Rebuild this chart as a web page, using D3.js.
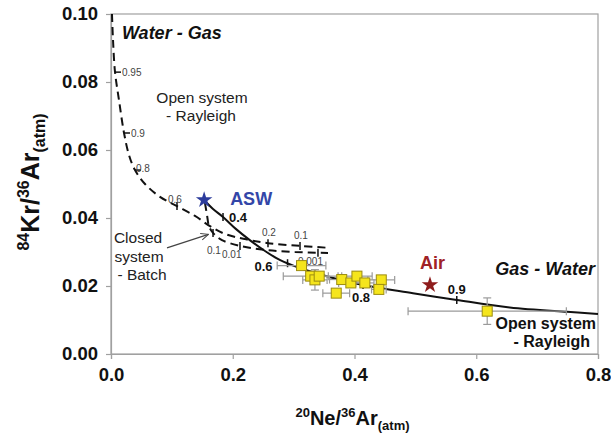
<!DOCTYPE html>
<html><head><meta charset="utf-8">
<script src="https://cdn.jsdelivr.net/npm/d3@7"></script>
<style>body{margin:0;background:#fff}text{font-family:Arial,"Liberation Sans",sans-serif}</style>
</head><body><svg id="c" width="611" height="437"></svg>
<script>
// ---------- data ----------
const xTickValues = [0, 0.2, 0.4, 0.6, 0.8];
const xTickLabels = ["0.0", "0.2", "0.4", "0.6", "0.8"];
const yTickValues = [0, 0.02, 0.04, 0.06, 0.08, 0.10];
const yTickLabels = ["0.00", "0.02", "0.04", "0.06", "0.08", "0.10"];

// samples (20Ne/36Ar, 84Kr/36Ar) with errors
const sampleNe = [0.313, 0.328, 0.335, 0.342, 0.379, 0.370, 0.394, 0.404, 0.417, 0.444, 0.440, 0.618];
const sampleKr = [0.0260, 0.0229, 0.0218, 0.0229, 0.0219, 0.0179, 0.0209, 0.0229, 0.0209, 0.0218, 0.0190, 0.0126];
const sampleNeErr = [0.040, 0.045, 0.020, 0.015, 0.020, 0.022, 0.020, 0.025, 0.015, 0.022, 0.012, 0.130];
const sampleKrErr = [0.0010, 0.0012, 0.0030, 0.0012, 0.0010, 0.0010, 0.0012, 0.0012, 0.0010, 0.0012, 0.0010, 0.0039];

// end members
const aswPoint = [0.153, 0.0453];
const airPoint = [0.524, 0.0203];

// Gas - Water, open system Rayleigh (solid)
const gasWaterNe = [0.153, 0.1676, 0.184, 0.205, 0.228, 0.253, 0.278, 0.310, 0.360, 0.414, 0.496, 0.568, 0.655, 0.749, 0.800];
const gasWaterKr = [0.0453, 0.04265, 0.0403, 0.0368, 0.0335, 0.0303, 0.0276, 0.0253, 0.0226, 0.0203, 0.0179, 0.0159, 0.0137, 0.0124, 0.0118];
const gasWaterMarks = [["0.4", 0.184, 0.0403], ["0.6", 0.290, 0.0267], ["0.8", 0.414, 0.0203], ["0.9", 0.568, 0.0159]];

// Water - Gas, open system Rayleigh (dashed)
const waterGasNe = [0.0016, 0.0033, 0.0066, 0.0131, 0.0214, 0.0296, 0.0394, 0.0559, 0.0805, 0.1084, 0.138, 0.1626, 0.1873, 0.2201, 0.2579, 0.3105, 0.3598];
const waterGasKr = [0.100, 0.0924, 0.0829, 0.0747, 0.0650, 0.0585, 0.0541, 0.0500, 0.0462, 0.0435, 0.0406, 0.0376, 0.0353, 0.0338, 0.0326, 0.0318, 0.0312];
const waterGasMarks = [["0.95", 0.0066, 0.0829], ["0.9", 0.0214, 0.0650], ["0.8", 0.0394, 0.0541], ["0.6", 0.1084, 0.0435], ["0.2", 0.2579, 0.0326], ["0.1", 0.3105, 0.0318]];

// Closed system batch (dashed)
const batchNe = [0.1544, 0.1577, 0.161, 0.1676, 0.1823, 0.2119, 0.253, 0.3023, 0.3565];
const batchKr = [0.0444, 0.0409, 0.0376, 0.0356, 0.0335, 0.0318, 0.0306, 0.0300, 0.0297];
const batchMarks = [["0.1", 0.1676, 0.0356], ["0.01", 0.2119, 0.0318], ["0.001", 0.3400, 0.0298]];

// ---------- drawing ----------
const svg = d3.select("#c");
const x = d3.scaleLinear().domain([0, 0.8]).range([111, 598]);
const y = d3.scaleLinear().domain([0, 0.1]).range([354, 14]);
const axisCol = "#a0a0a0";

// frame
svg.append("rect").attr("x", x(0)).attr("y", y(0.1)).attr("width", x(0.8) - x(0)).attr("height", y(0) - y(0.1))
  .attr("fill", "none").attr("stroke", axisCol).attr("stroke-width", 1.2);

const xAxis = d3.axisBottom(x).tickValues(xTickValues).tickSize(5).tickFormat((d, i) => xTickLabels[i]);
const gx = svg.append("g").attr("transform", `translate(0,${y(0)})`).call(xAxis);
const yAxis = d3.axisLeft(y).tickValues(yTickValues).tickSize(5).tickPadding(8).tickFormat((d, i) => yTickLabels[i]);
const gy = svg.append("g").attr("transform", `translate(${x(0)},0)`).call(yAxis);
[gx, gy].forEach(g => {
  g.select(".domain").attr("stroke", axisCol).attr("stroke-width", 1.2);
  g.selectAll(".tick line").attr("stroke", axisCol).attr("stroke-width", 1.2);
  g.selectAll(".tick text").attr("fill", "#111").attr("font-size", 18.5).attr("font-weight", "bold")
    .attr("font-family", "Arial, 'Liberation Sans', sans-serif");
});
gx.selectAll(".tick text").attr("dy", "1.05em");

// axis titles
const xt = svg.append("text").attr("x", x(0.4) - 2).attr("y", 425).attr("text-anchor", "middle")
  .attr("font-size", 20).attr("font-weight", "bold").attr("fill", "#111");
xt.append("tspan").text("20").attr("font-size", 13).attr("dy", -8);
xt.append("tspan").text("Ne/").attr("dy", 8);
xt.append("tspan").text("36").attr("font-size", 13).attr("dy", -8);
xt.append("tspan").text("Ar").attr("dy", 8);
xt.append("tspan").text("(atm)").attr("font-size", 13).attr("dy", 5);

const yt = svg.append("text").attr("transform", `translate(39,${(y(0) + y(0.1)) / 2 - 2}) rotate(-90)`)
  .attr("text-anchor", "middle").attr("font-size", 25).attr("font-weight", "bold").attr("fill", "#111");
yt.append("tspan").text("84").attr("font-size", 16).attr("dy", -10);
yt.append("tspan").text("Kr/").attr("dy", 10);
yt.append("tspan").text("36").attr("font-size", 16).attr("dy", -10);
yt.append("tspan").text("Ar").attr("dy", 10);
yt.append("tspan").text("(atm)").attr("font-size", 16).attr("dy", 6);

// curves
const line = d3.line().x(d => x(d[0])).y(d => y(d[1])).curve(d3.curveCatmullRom.alpha(0.5));
const zip = (a, b) => a.map((v, i) => [v, b[i]]);
svg.append("path").attr("d", line(zip(waterGasNe, waterGasKr))).attr("fill", "none")
  .attr("stroke", "#111").attr("stroke-width", 2).attr("stroke-dasharray", "8,5");
svg.append("path").attr("d", line(zip(batchNe, batchKr))).attr("fill", "none")
  .attr("stroke", "#111").attr("stroke-width", 2).attr("stroke-dasharray", "8,5");
svg.append("path").attr("d", line(zip(gasWaterNe, gasWaterKr))).attr("fill", "none")
  .attr("stroke", "#111").attr("stroke-width", 2);

// curve marks
function marks(arr, layout, style) {
  arr.forEach((m, i) => {
    const px = x(m[1]), py = y(m[2]), L = layout[i];
    if (L.tick === "h") svg.append("line").attr("x1", px).attr("x2", px + 6).attr("y1", py).attr("y2", py).attr("stroke", "#111").attr("stroke-width", 1.5);
    else svg.append("line").attr("x1", px).attr("x2", px).attr("y1", py - 4).attr("y2", py + 4).attr("stroke", "#111").attr("stroke-width", 1.5);
    svg.append("text").attr("x", px + L.dx).attr("y", py + L.dy).attr("text-anchor", L.anchor || "start")
      .attr("font-size", style.size).attr("font-weight", style.weight).attr("fill", style.fill).text(m[0]);
  });
}
marks(waterGasMarks, [
  {tick: "h", dx: 7, dy: 4}, {tick: "h", dx: 7, dy: 4}, {tick: "h", dx: 1, dy: 2},
  {tick: "v", dx: -9, dy: -3}, {tick: "v", dx: -6, dy: -7}, {tick: "v", dx: -6, dy: -7}
], {size: 10, weight: "normal", fill: "#444"});
marks(batchMarks, [
  {tick: "v", dx: -6, dy: 21}, {tick: "v", dx: -18, dy: 12}, {tick: "v", dx: -20, dy: 12}
], {size: 10, weight: "normal", fill: "#444"});
marks(gasWaterMarks, [
  {tick: "v", dx: 6, dy: 5}, {tick: "v", dx: -33, dy: 8}, {tick: "v", dx: -11, dy: 17}, {tick: "v", dx: -9, dy: -6}
], {size: 13, weight: "bold", fill: "#111"});

// error bars & samples
const g = svg.append("g");
sampleNe.forEach((v, i) => {
  const cx = x(v), cy = y(sampleKr[i]);
  const x0 = x(v - sampleNeErr[i]), x1 = x(v + sampleNeErr[i]);
  const y0 = y(sampleKr[i] - sampleKrErr[i]), y1 = y(sampleKr[i] + sampleKrErr[i]);
  const e = g.append("g").attr("stroke", "#9a9a9a").attr("stroke-width", 1.2);
  e.append("line").attr("x1", x0).attr("x2", x1).attr("y1", cy).attr("y2", cy);
  e.append("line").attr("x1", x0).attr("x2", x0).attr("y1", cy - 4).attr("y2", cy + 4);
  e.append("line").attr("x1", x1).attr("x2", x1).attr("y1", cy - 4).attr("y2", cy + 4);
  e.append("line").attr("x1", cx).attr("x2", cx).attr("y1", y0).attr("y2", y1);
  e.append("line").attr("x1", cx - 4).attr("x2", cx + 4).attr("y1", y0).attr("y2", y0);
  e.append("line").attr("x1", cx - 4).attr("x2", cx + 4).attr("y1", y1).attr("y2", y1);
});
sampleNe.forEach((v, i) => {
  g.append("rect").attr("x", x(v) - 5).attr("y", y(sampleKr[i]) - 5).attr("width", 10).attr("height", 10)
    .attr("fill", "#f5e51c").attr("stroke", "#9c8c10").attr("stroke-width", 1);
});

// stars
const star = d3.symbol().type(d3.symbolStar).size(85);
svg.append("path").attr("d", star()).attr("transform", `translate(${x(aswPoint[0])},${y(aswPoint[1])})`).attr("fill", "#2c3c9c");
svg.append("path").attr("d", star()).attr("transform", `translate(${x(airPoint[0])},${y(airPoint[1])})`).attr("fill", "#8e1c1c");
svg.append("text").attr("x", x(aswPoint[0]) + 26).attr("y", y(aswPoint[1]) + 5).attr("font-size", 18).attr("font-weight", "bold").attr("fill", "#3346a8").text("ASW");
svg.append("text").attr("x", x(airPoint[0]) - 10).attr("y", y(airPoint[1]) - 16).attr("font-size", 18).attr("font-weight", "bold").attr("fill", "#a02226").text("Air");

// annotations
svg.append("text").attr("x", x(0.018)).attr("y", 39).attr("font-size", 18).attr("font-weight", "bold").attr("font-style", "italic").attr("fill", "#111").text("Water - Gas");
svg.append("text").attr("x", 595).attr("y", 275).attr("text-anchor", "end").attr("font-size", 18).attr("font-weight", "bold").attr("font-style", "italic").attr("fill", "#111").text("Gas - Water");
const t1 = svg.append("text").attr("text-anchor", "middle").attr("font-size", 15.5).attr("fill", "#222");
t1.append("tspan").attr("x", 202).attr("y", 103).text("Open system");
t1.append("tspan").attr("x", 201).attr("y", 121).text("- Rayleigh");
const t2 = svg.append("text").attr("text-anchor", "end").attr("font-size", 16).attr("font-weight", "bold").attr("fill", "#111");
t2.append("tspan").attr("x", 596).attr("y", 329).text("Open system");
t2.append("tspan").attr("x", 590).attr("y", 347).text("- Rayleigh");
const t3 = svg.append("text").attr("text-anchor", "middle").attr("font-size", 15.5).attr("fill", "#222");
t3.append("tspan").attr("x", 138).attr("y", 243).text("Closed");
t3.append("tspan").attr("x", 139).attr("y", 262).text("system");
t3.append("tspan").attr("x", 142).attr("y", 280).text("- Batch");

svg.append("defs").append("marker").attr("id", "ah").attr("viewBox", "0 0 10 10").attr("refX", 9).attr("refY", 5)
  .attr("markerWidth", 7).attr("markerHeight", 7).attr("orient", "auto")
  .append("path").attr("d", "M0,1 L9,5 L0,9").attr("fill", "none").attr("stroke", "#444").attr("stroke-width", 1.2);
svg.append("line").attr("x1", x(0.092)).attr("y1", y(0.0312)).attr("x2", x(0.160)).attr("y2", y(0.0352))
  .attr("stroke", "#444").attr("stroke-width", 1.2).attr("marker-end", "url(#ah)");
</script></body></html>
